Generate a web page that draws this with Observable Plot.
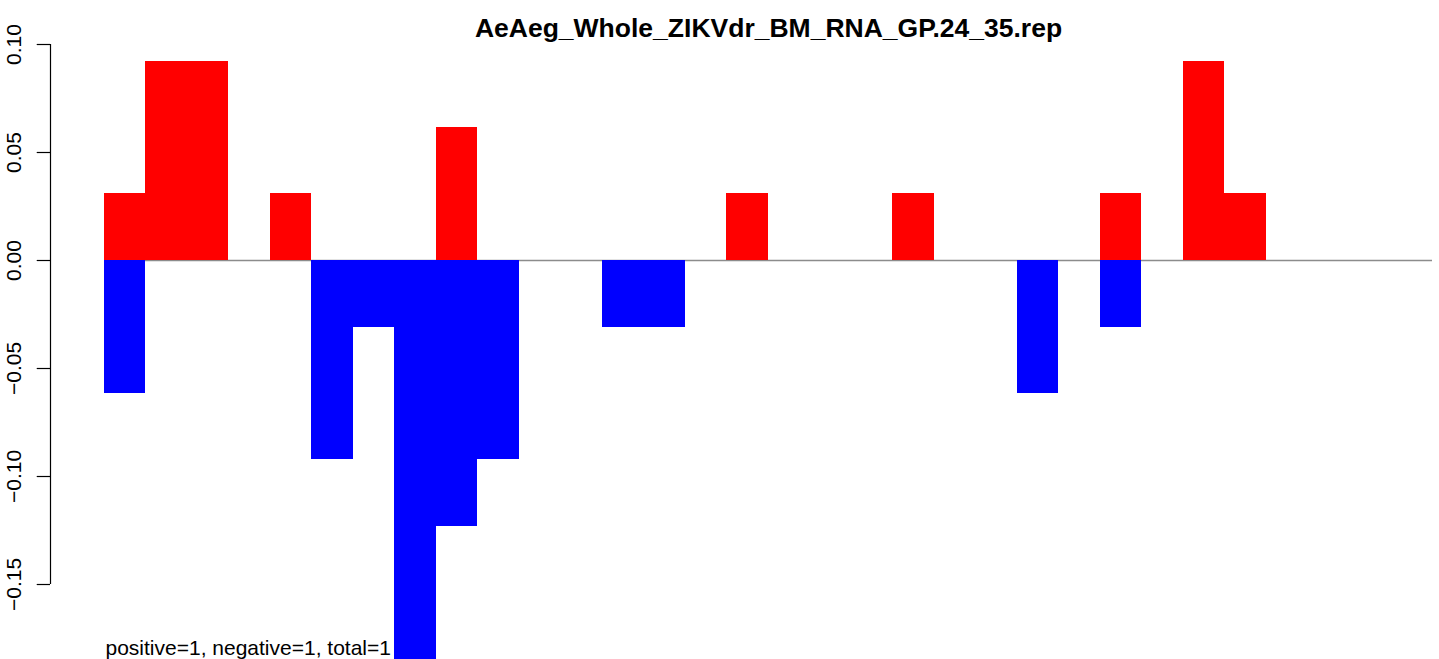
<!DOCTYPE html>
<html>
<head>
<meta charset="utf-8">
<script src="https://cdn.jsdelivr.net/npm/d3@7"></script>
<script src="https://cdn.jsdelivr.net/npm/@observablehq/plot@0.6"></script>
<style>
  html, body { margin: 0; padding: 0; background: #fff; overflow: hidden; }
  svg { display: block; }
</style>
</head>
<body>
<div id="chart"></div>
<script>
// ---- data ----
const title = "AeAeg_Whole_ZIKVdr_BM_RNA_GP.24_35.rep";
const note = "positive=1, negative=1, total=1";
const bins = [0,1,2,3,4,5,6,7,8,9,10,11,12,13,14,15,16,17,18,19,20,21,22,23,24,25,26,27,28,29,30,31];
const positive = [0.0308,0.0923,0.0923,0,0.0308,0,0,0,0.0615,0,0,0,0,0,0,0.0308,
                  0,0,0,0.0308,0,0,0,0,0.0308,0,0.0923,0.0308,0,0,0,0];
const negative = [-0.0615,0,0,0,0,-0.0923,-0.0308,-0.1846,-0.1231,-0.0923,0,0,-0.0308,-0.0308,0,0,
                  0,0,0,0,0,0,-0.0615,0,-0.0308,0,0,0,0,0,0,0];
const yTicks = [0.10, 0.05, 0.00, -0.05, -0.10, -0.15];
const yTickLabels = ["0.10", "0.05", "0.00", "\u22120.05", "\u22120.10", "\u22120.15"];

// ---- build table ----
const posRows = bins.map((b, i) => ({x1: b, x2: b + 1, v: positive[i]})).filter(d => d.v !== 0);
const negRows = bins.map((b, i) => ({x1: b, x2: b + 1, v: negative[i]})).filter(d => d.v !== 0);
const tickRows = yTicks.map((t, i) => ({t, label: yTickLabels[i]}));

const nBins = bins.length;
const axisX = -1.3012;      // y axis line position in bar units
const tickLen = 0.32;       // tick length in bar units
const font = "'Liberation Sans', Arial, Helvetica, sans-serif";

const chart = Plot.plot({
  width: 1439,
  height: 659,
  marginTop: 0, marginBottom: 0, marginLeft: 0, marginRight: 0,
  style: {fontFamily: font, background: "#fff"},
  x: {domain: [-2.5060, 32.1687], axis: null},
  y: {domain: [-0.18472, 0.12037], axis: null},
  marks: [
    // zero line
    Plot.ruleY([0], {x1: 0, x2: nBins, stroke: "#8c8c8c", strokeWidth: 1.6}),
    // bars
    Plot.rectY(posRows, {x1: "x1", x2: "x2", y1: 0, y2: "v", fill: "#ff0000", shapeRendering: "crispEdges"}),
    Plot.rectY(negRows, {x1: "x1", x2: "x2", y1: 0, y2: "v", fill: "#0000ff", shapeRendering: "crispEdges"}),
    // y axis
    Plot.ruleX([axisX], {y1: d3.min(yTicks), y2: d3.max(yTicks), stroke: "#000", strokeWidth: 1.2}),
    Plot.ruleY(tickRows, {y: "t", x1: axisX, x2: axisX - tickLen, stroke: "#000", strokeWidth: 1.2}),
    Plot.text(tickRows, {y: "t", x: d => axisX, text: "label", rotate: -90, dx: -36, textAnchor: "middle",
      lineAnchor: "middle", fontSize: 21, fill: "#000"}),
    // title
    Plot.text([title], {x: d => nBins / 2, frameAnchor: "top", lineAnchor: "top", dy: 17.5,
      fontSize: 26.5, fontWeight: "bold", fill: "#000", textAnchor: "middle"}),
    // note
    Plot.text([note], {x: d => 0, frameAnchor: "bottom", lineAnchor: "bottom", textAnchor: "start",
      dx: 1, dy: -5, fontSize: 21, fill: "#000"})
  ]
});
document.getElementById("chart").appendChild(chart);
</script>
</body>
</html>
